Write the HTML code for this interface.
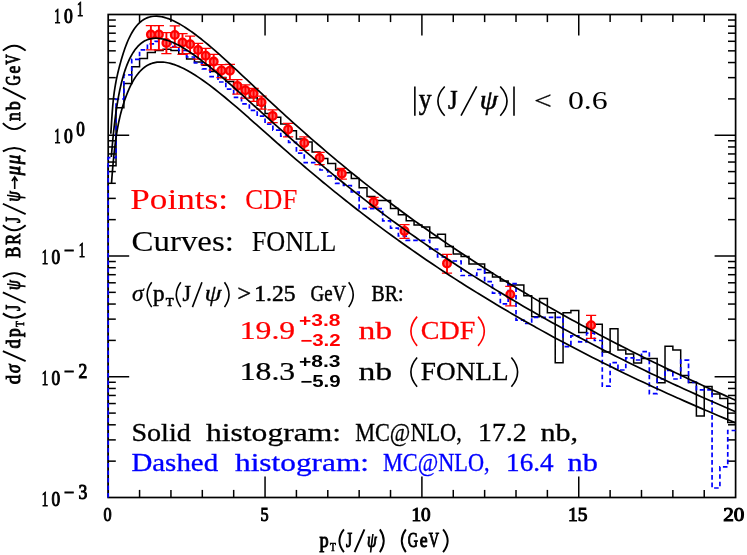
<!DOCTYPE html>
<html><head><meta charset="utf-8"><title>J/psi FONLL vs CDF</title>
<style>
html,body{margin:0;padding:0;background:#fff;}
svg{display:block;will-change:transform;}
</style></head><body>
<svg width="747" height="555" viewBox="0 0 747 555">
<rect x="0" y="0" width="747" height="555" fill="#fff"/>
<rect x="108.2" y="14.5" width="627.40" height="483.00" fill="none" stroke="#000" stroke-width="1.7"/>
<line x1="139.57" y1="497.50" x2="139.57" y2="489.90" stroke="#000" stroke-width="1.5" />
<line x1="139.57" y1="14.50" x2="139.57" y2="22.10" stroke="#000" stroke-width="1.5" />
<line x1="170.94" y1="497.50" x2="170.94" y2="489.90" stroke="#000" stroke-width="1.5" />
<line x1="170.94" y1="14.50" x2="170.94" y2="22.10" stroke="#000" stroke-width="1.5" />
<line x1="202.31" y1="497.50" x2="202.31" y2="489.90" stroke="#000" stroke-width="1.5" />
<line x1="202.31" y1="14.50" x2="202.31" y2="22.10" stroke="#000" stroke-width="1.5" />
<line x1="233.68" y1="497.50" x2="233.68" y2="489.90" stroke="#000" stroke-width="1.5" />
<line x1="233.68" y1="14.50" x2="233.68" y2="22.10" stroke="#000" stroke-width="1.5" />
<line x1="265.05" y1="497.50" x2="265.05" y2="476.50" stroke="#000" stroke-width="1.5" />
<line x1="265.05" y1="14.50" x2="265.05" y2="35.50" stroke="#000" stroke-width="1.5" />
<line x1="296.42" y1="497.50" x2="296.42" y2="489.90" stroke="#000" stroke-width="1.5" />
<line x1="296.42" y1="14.50" x2="296.42" y2="22.10" stroke="#000" stroke-width="1.5" />
<line x1="327.79" y1="497.50" x2="327.79" y2="489.90" stroke="#000" stroke-width="1.5" />
<line x1="327.79" y1="14.50" x2="327.79" y2="22.10" stroke="#000" stroke-width="1.5" />
<line x1="359.16" y1="497.50" x2="359.16" y2="489.90" stroke="#000" stroke-width="1.5" />
<line x1="359.16" y1="14.50" x2="359.16" y2="22.10" stroke="#000" stroke-width="1.5" />
<line x1="390.53" y1="497.50" x2="390.53" y2="489.90" stroke="#000" stroke-width="1.5" />
<line x1="390.53" y1="14.50" x2="390.53" y2="22.10" stroke="#000" stroke-width="1.5" />
<line x1="421.90" y1="497.50" x2="421.90" y2="476.50" stroke="#000" stroke-width="1.5" />
<line x1="421.90" y1="14.50" x2="421.90" y2="35.50" stroke="#000" stroke-width="1.5" />
<line x1="453.27" y1="497.50" x2="453.27" y2="489.90" stroke="#000" stroke-width="1.5" />
<line x1="453.27" y1="14.50" x2="453.27" y2="22.10" stroke="#000" stroke-width="1.5" />
<line x1="484.64" y1="497.50" x2="484.64" y2="489.90" stroke="#000" stroke-width="1.5" />
<line x1="484.64" y1="14.50" x2="484.64" y2="22.10" stroke="#000" stroke-width="1.5" />
<line x1="516.01" y1="497.50" x2="516.01" y2="489.90" stroke="#000" stroke-width="1.5" />
<line x1="516.01" y1="14.50" x2="516.01" y2="22.10" stroke="#000" stroke-width="1.5" />
<line x1="547.38" y1="497.50" x2="547.38" y2="489.90" stroke="#000" stroke-width="1.5" />
<line x1="547.38" y1="14.50" x2="547.38" y2="22.10" stroke="#000" stroke-width="1.5" />
<line x1="578.75" y1="497.50" x2="578.75" y2="476.50" stroke="#000" stroke-width="1.5" />
<line x1="578.75" y1="14.50" x2="578.75" y2="35.50" stroke="#000" stroke-width="1.5" />
<line x1="610.12" y1="497.50" x2="610.12" y2="489.90" stroke="#000" stroke-width="1.5" />
<line x1="610.12" y1="14.50" x2="610.12" y2="22.10" stroke="#000" stroke-width="1.5" />
<line x1="641.49" y1="497.50" x2="641.49" y2="489.90" stroke="#000" stroke-width="1.5" />
<line x1="641.49" y1="14.50" x2="641.49" y2="22.10" stroke="#000" stroke-width="1.5" />
<line x1="672.86" y1="497.50" x2="672.86" y2="489.90" stroke="#000" stroke-width="1.5" />
<line x1="672.86" y1="14.50" x2="672.86" y2="22.10" stroke="#000" stroke-width="1.5" />
<line x1="704.23" y1="497.50" x2="704.23" y2="489.90" stroke="#000" stroke-width="1.5" />
<line x1="704.23" y1="14.50" x2="704.23" y2="22.10" stroke="#000" stroke-width="1.5" />
<line x1="108.20" y1="461.15" x2="115.80" y2="461.15" stroke="#000" stroke-width="1.5" />
<line x1="735.60" y1="461.15" x2="728.00" y2="461.15" stroke="#000" stroke-width="1.5" />
<line x1="108.20" y1="439.89" x2="115.80" y2="439.89" stroke="#000" stroke-width="1.5" />
<line x1="735.60" y1="439.89" x2="728.00" y2="439.89" stroke="#000" stroke-width="1.5" />
<line x1="108.20" y1="424.80" x2="115.80" y2="424.80" stroke="#000" stroke-width="1.5" />
<line x1="735.60" y1="424.80" x2="728.00" y2="424.80" stroke="#000" stroke-width="1.5" />
<line x1="108.20" y1="413.10" x2="115.80" y2="413.10" stroke="#000" stroke-width="1.5" />
<line x1="735.60" y1="413.10" x2="728.00" y2="413.10" stroke="#000" stroke-width="1.5" />
<line x1="108.20" y1="403.54" x2="115.80" y2="403.54" stroke="#000" stroke-width="1.5" />
<line x1="735.60" y1="403.54" x2="728.00" y2="403.54" stroke="#000" stroke-width="1.5" />
<line x1="108.20" y1="395.45" x2="115.80" y2="395.45" stroke="#000" stroke-width="1.5" />
<line x1="735.60" y1="395.45" x2="728.00" y2="395.45" stroke="#000" stroke-width="1.5" />
<line x1="108.20" y1="388.45" x2="115.80" y2="388.45" stroke="#000" stroke-width="1.5" />
<line x1="735.60" y1="388.45" x2="728.00" y2="388.45" stroke="#000" stroke-width="1.5" />
<line x1="108.20" y1="382.28" x2="115.80" y2="382.28" stroke="#000" stroke-width="1.5" />
<line x1="735.60" y1="382.28" x2="728.00" y2="382.28" stroke="#000" stroke-width="1.5" />
<line x1="108.20" y1="376.75" x2="129.20" y2="376.75" stroke="#000" stroke-width="1.5" />
<line x1="735.60" y1="376.75" x2="714.60" y2="376.75" stroke="#000" stroke-width="1.5" />
<line x1="108.20" y1="340.40" x2="115.80" y2="340.40" stroke="#000" stroke-width="1.5" />
<line x1="735.60" y1="340.40" x2="728.00" y2="340.40" stroke="#000" stroke-width="1.5" />
<line x1="108.20" y1="319.14" x2="115.80" y2="319.14" stroke="#000" stroke-width="1.5" />
<line x1="735.60" y1="319.14" x2="728.00" y2="319.14" stroke="#000" stroke-width="1.5" />
<line x1="108.20" y1="304.05" x2="115.80" y2="304.05" stroke="#000" stroke-width="1.5" />
<line x1="735.60" y1="304.05" x2="728.00" y2="304.05" stroke="#000" stroke-width="1.5" />
<line x1="108.20" y1="292.35" x2="115.80" y2="292.35" stroke="#000" stroke-width="1.5" />
<line x1="735.60" y1="292.35" x2="728.00" y2="292.35" stroke="#000" stroke-width="1.5" />
<line x1="108.20" y1="282.79" x2="115.80" y2="282.79" stroke="#000" stroke-width="1.5" />
<line x1="735.60" y1="282.79" x2="728.00" y2="282.79" stroke="#000" stroke-width="1.5" />
<line x1="108.20" y1="274.70" x2="115.80" y2="274.70" stroke="#000" stroke-width="1.5" />
<line x1="735.60" y1="274.70" x2="728.00" y2="274.70" stroke="#000" stroke-width="1.5" />
<line x1="108.20" y1="267.70" x2="115.80" y2="267.70" stroke="#000" stroke-width="1.5" />
<line x1="735.60" y1="267.70" x2="728.00" y2="267.70" stroke="#000" stroke-width="1.5" />
<line x1="108.20" y1="261.53" x2="115.80" y2="261.53" stroke="#000" stroke-width="1.5" />
<line x1="735.60" y1="261.53" x2="728.00" y2="261.53" stroke="#000" stroke-width="1.5" />
<line x1="108.20" y1="256.00" x2="129.20" y2="256.00" stroke="#000" stroke-width="1.5" />
<line x1="735.60" y1="256.00" x2="714.60" y2="256.00" stroke="#000" stroke-width="1.5" />
<line x1="108.20" y1="219.65" x2="115.80" y2="219.65" stroke="#000" stroke-width="1.5" />
<line x1="735.60" y1="219.65" x2="728.00" y2="219.65" stroke="#000" stroke-width="1.5" />
<line x1="108.20" y1="198.39" x2="115.80" y2="198.39" stroke="#000" stroke-width="1.5" />
<line x1="735.60" y1="198.39" x2="728.00" y2="198.39" stroke="#000" stroke-width="1.5" />
<line x1="108.20" y1="183.30" x2="115.80" y2="183.30" stroke="#000" stroke-width="1.5" />
<line x1="735.60" y1="183.30" x2="728.00" y2="183.30" stroke="#000" stroke-width="1.5" />
<line x1="108.20" y1="171.60" x2="115.80" y2="171.60" stroke="#000" stroke-width="1.5" />
<line x1="735.60" y1="171.60" x2="728.00" y2="171.60" stroke="#000" stroke-width="1.5" />
<line x1="108.20" y1="162.04" x2="115.80" y2="162.04" stroke="#000" stroke-width="1.5" />
<line x1="735.60" y1="162.04" x2="728.00" y2="162.04" stroke="#000" stroke-width="1.5" />
<line x1="108.20" y1="153.95" x2="115.80" y2="153.95" stroke="#000" stroke-width="1.5" />
<line x1="735.60" y1="153.95" x2="728.00" y2="153.95" stroke="#000" stroke-width="1.5" />
<line x1="108.20" y1="146.95" x2="115.80" y2="146.95" stroke="#000" stroke-width="1.5" />
<line x1="735.60" y1="146.95" x2="728.00" y2="146.95" stroke="#000" stroke-width="1.5" />
<line x1="108.20" y1="140.78" x2="115.80" y2="140.78" stroke="#000" stroke-width="1.5" />
<line x1="735.60" y1="140.78" x2="728.00" y2="140.78" stroke="#000" stroke-width="1.5" />
<line x1="108.20" y1="135.25" x2="129.20" y2="135.25" stroke="#000" stroke-width="1.5" />
<line x1="735.60" y1="135.25" x2="714.60" y2="135.25" stroke="#000" stroke-width="1.5" />
<line x1="108.20" y1="98.90" x2="115.80" y2="98.90" stroke="#000" stroke-width="1.5" />
<line x1="735.60" y1="98.90" x2="728.00" y2="98.90" stroke="#000" stroke-width="1.5" />
<line x1="108.20" y1="77.64" x2="115.80" y2="77.64" stroke="#000" stroke-width="1.5" />
<line x1="735.60" y1="77.64" x2="728.00" y2="77.64" stroke="#000" stroke-width="1.5" />
<line x1="108.20" y1="62.55" x2="115.80" y2="62.55" stroke="#000" stroke-width="1.5" />
<line x1="735.60" y1="62.55" x2="728.00" y2="62.55" stroke="#000" stroke-width="1.5" />
<line x1="108.20" y1="50.85" x2="115.80" y2="50.85" stroke="#000" stroke-width="1.5" />
<line x1="735.60" y1="50.85" x2="728.00" y2="50.85" stroke="#000" stroke-width="1.5" />
<line x1="108.20" y1="41.29" x2="115.80" y2="41.29" stroke="#000" stroke-width="1.5" />
<line x1="735.60" y1="41.29" x2="728.00" y2="41.29" stroke="#000" stroke-width="1.5" />
<line x1="108.20" y1="33.20" x2="115.80" y2="33.20" stroke="#000" stroke-width="1.5" />
<line x1="735.60" y1="33.20" x2="728.00" y2="33.20" stroke="#000" stroke-width="1.5" />
<line x1="108.20" y1="26.20" x2="115.80" y2="26.20" stroke="#000" stroke-width="1.5" />
<line x1="735.60" y1="26.20" x2="728.00" y2="26.20" stroke="#000" stroke-width="1.5" />
<line x1="108.20" y1="20.03" x2="115.80" y2="20.03" stroke="#000" stroke-width="1.5" />
<line x1="735.60" y1="20.03" x2="728.00" y2="20.03" stroke="#000" stroke-width="1.5" />
<path d="M108.20,497.50 L108.20,165.80 L116.04,165.80 L116.04,107.70 L123.89,107.70 L123.89,83.50 L131.73,83.50 L131.73,66.80 L139.57,66.80 L139.57,58.60 L147.41,58.60 L147.41,52.60 L155.25,52.60 L155.25,50.50 L163.10,50.50 L163.10,49.20 L170.94,49.20 L170.94,50.50 L178.78,50.50 L178.78,53.90 L186.62,53.90 L186.62,58.90 L194.47,58.90 L194.47,62.00 L202.31,62.00 L202.31,65.30 L210.15,65.30 L210.15,71.40 L218.00,71.40 L218.00,77.40 L225.84,77.40 L225.84,81.50 L233.68,81.50 L233.68,87.00 L241.52,87.00 L241.52,92.50 L249.37,92.50 L249.37,97.80 L257.21,97.80 L257.21,105.30 L265.05,105.30 L265.05,113.50 L272.89,113.50 L272.89,117.30 L280.74,117.30 L280.74,124.10 L288.58,124.10 L288.58,130.80 L296.42,130.80 L296.42,138.90 L304.26,138.90 L304.26,141.90 L312.10,141.90 L312.10,152.00 L319.95,152.00 L319.95,158.50 L327.79,158.50 L327.79,163.40 L335.63,163.40 L335.63,169.90 L343.47,169.90 L343.47,172.70 L351.32,172.70 L351.32,178.50 L359.16,178.50 L359.16,187.70 L367.00,187.70 L367.00,196.50 L374.84,196.50 L374.84,200.50 L382.69,200.50 L382.69,200.50 L390.53,200.50 L390.53,208.60 L398.37,208.60 L398.37,214.70 L406.21,214.70 L406.21,220.80 L414.06,220.80 L414.06,224.90 L421.90,224.90 L421.90,226.90 L429.74,226.90 L429.74,237.70 L437.58,237.70 L437.58,234.30 L445.43,234.30 L445.43,246.50 L453.27,246.50 L453.27,253.90 L461.11,253.90 L461.11,256.60 L468.95,256.60 L468.95,264.00 L476.80,264.00 L476.80,264.00 L484.64,264.00 L484.64,272.80 L492.48,272.80 L492.48,277.00 L500.32,277.00 L500.32,281.00 L508.17,281.00 L508.17,285.00 L516.01,285.00 L516.01,285.00 L523.85,285.00 L523.85,295.80 L531.69,295.80 L531.69,316.80 L539.54,316.80 L539.54,298.50 L547.38,298.50 L547.38,312.80 L555.22,312.80 L555.22,362.80 L563.06,362.80 L563.06,312.80 L570.91,312.80 L570.91,310.50 L578.75,310.50 L578.75,332.40 L586.59,332.40 L586.59,324.30 L594.43,324.30 L594.43,324.30 L602.28,324.30 L602.28,352.00 L610.12,352.00 L610.12,328.80 L617.96,328.80 L617.96,350.00 L625.80,350.00 L625.80,354.00 L633.65,354.00 L633.65,363.00 L641.49,363.00 L641.49,358.40 L649.33,358.40 L649.33,358.40 L657.17,358.40 L657.17,382.80 L665.02,382.80 L665.02,346.20 L672.86,346.20 L672.86,350.00 L680.70,350.00 L680.70,375.50 L688.54,375.50 L688.54,382.40 L696.39,382.40 L696.39,416.00 L704.23,416.00 L704.23,386.50 L712.07,386.50 L712.07,393.90 L719.91,393.90 L719.91,398.60 L727.76,398.60 L727.76,422.50 L735.60,422.50" fill="none" stroke="#000" stroke-width="1.5" stroke-linejoin="miter"/>
<path d="M108.20,497.50 L108.20,157.70 L116.04,157.70 L116.04,99.00 L123.89,99.00 L123.89,74.90 L131.73,74.90 L131.73,59.30 L139.57,59.30 L139.57,49.90 L147.41,49.90 L147.41,43.80 L155.25,43.80 L155.25,41.40 L163.10,41.40 L163.10,43.80 L170.94,43.80 L170.94,46.50 L178.78,46.50 L178.78,50.50 L186.62,50.50 L186.62,57.00 L194.47,57.00 L194.47,63.00 L202.31,63.00 L202.31,68.90 L210.15,68.90 L210.15,76.60 L218.00,76.60 L218.00,82.00 L225.84,82.00 L225.84,89.20 L233.68,89.20 L233.68,97.30 L241.52,97.30 L241.52,103.80 L249.37,103.80 L249.37,110.30 L257.21,110.30 L257.21,116.20 L265.05,116.20 L265.05,124.10 L272.89,124.10 L272.89,130.10 L280.74,130.10 L280.74,136.20 L288.58,136.20 L288.58,142.30 L296.42,142.30 L296.42,153.10 L304.26,153.10 L304.26,162.60 L312.10,162.60 L312.10,162.60 L319.95,162.60 L319.95,170.00 L327.79,170.00 L327.79,176.00 L335.63,176.00 L335.63,183.40 L343.47,183.40 L343.47,185.50 L351.32,185.50 L351.32,192.00 L359.16,192.00 L359.16,208.60 L367.00,208.60 L367.00,208.60 L374.84,208.60 L374.84,208.60 L382.69,208.60 L382.69,220.80 L390.53,220.80 L390.53,228.10 L398.37,228.10 L398.37,236.00 L406.21,236.00 L406.21,240.30 L414.06,240.30 L414.06,240.30 L421.90,240.30 L421.90,240.30 L429.74,240.30 L429.74,249.00 L437.58,249.00 L437.58,257.00 L445.43,257.00 L445.43,261.00 L453.27,261.00 L453.27,261.00 L461.11,261.00 L461.11,275.50 L468.95,275.50 L468.95,275.50 L476.80,275.50 L476.80,269.50 L484.64,269.50 L484.64,281.60 L492.48,281.60 L492.48,293.10 L500.32,293.10 L500.32,303.90 L508.17,303.90 L508.17,283.60 L516.01,283.60 L516.01,320.10 L523.85,320.10 L523.85,323.50 L531.69,323.50 L531.69,317.40 L539.54,317.40 L539.54,317.40 L547.38,317.40 L547.38,317.40 L555.22,317.40 L555.22,317.40 L563.06,317.40 L563.06,346.60 L570.91,346.60 L570.91,335.80 L578.75,335.80 L578.75,341.90 L586.59,341.90 L586.59,333.10 L594.43,333.10 L594.43,340.50 L602.28,340.50 L602.28,386.10 L610.12,386.10 L610.12,362.60 L617.96,362.60 L617.96,370.00 L625.80,370.00 L625.80,357.90 L633.65,357.90 L633.65,360.00 L641.49,360.00 L641.49,351.60 L649.33,351.60 L649.33,393.70 L657.17,393.70 L657.17,379.00 L665.02,379.00 L665.02,370.30 L672.86,370.30 L672.86,379.00 L680.70,379.00 L680.70,360.20 L688.54,360.20 L688.54,382.40 L696.39,382.40 L696.39,389.90 L704.23,389.90 L704.23,389.90 L712.07,389.90 L712.07,488.00 L719.91,488.00 L719.91,466.80 L727.76,466.80 L727.76,430.50 L735.60,430.50" fill="none" stroke="#0000ff" stroke-width="1.7" stroke-dasharray="4.6,2.9" stroke-linejoin="miter"/>
<circle cx="150.90" cy="34.60" r="3.85" fill="#ff6262" stroke="#ff0000" stroke-width="2.3"/>
<path d="M150.90,25.50 V49.90" stroke="#ff0000" stroke-width="1.9" fill="none"/>
<path d="M145.80,25.50 H156.00 M145.80,49.90 H156.00" stroke="#ff0000" stroke-width="1.25" fill="none"/>
<circle cx="158.90" cy="34.50" r="3.85" fill="#ff6262" stroke="#ff0000" stroke-width="2.3"/>
<path d="M158.90,25.50 V49.90" stroke="#ff0000" stroke-width="1.9" fill="none"/>
<path d="M153.80,25.50 H164.00 M153.80,49.90 H164.00" stroke="#ff0000" stroke-width="1.25" fill="none"/>
<circle cx="166.40" cy="43.00" r="3.85" fill="#ff6262" stroke="#ff0000" stroke-width="2.3"/>
<path d="M166.40,32.50 V53.50" stroke="#ff0000" stroke-width="1.9" fill="none"/>
<path d="M161.30,32.50 H171.50 M161.30,53.50 H171.50" stroke="#ff0000" stroke-width="1.25" fill="none"/>
<circle cx="174.80" cy="35.00" r="3.85" fill="#ff6262" stroke="#ff0000" stroke-width="2.3"/>
<path d="M174.80,25.90 V47.40" stroke="#ff0000" stroke-width="1.9" fill="none"/>
<path d="M169.70,25.90 H179.90 M169.70,47.40 H179.90" stroke="#ff0000" stroke-width="1.25" fill="none"/>
<circle cx="182.50" cy="42.50" r="3.85" fill="#ff6262" stroke="#ff0000" stroke-width="2.3"/>
<path d="M182.50,33.60 V54.30" stroke="#ff0000" stroke-width="1.9" fill="none"/>
<path d="M177.40,33.60 H187.60 M177.40,54.30 H187.60" stroke="#ff0000" stroke-width="1.25" fill="none"/>
<circle cx="190.10" cy="44.20" r="3.85" fill="#ff6262" stroke="#ff0000" stroke-width="2.3"/>
<path d="M190.10,36.00 V53.50" stroke="#ff0000" stroke-width="1.9" fill="none"/>
<path d="M185.00,36.00 H195.20 M185.00,53.50 H195.20" stroke="#ff0000" stroke-width="1.25" fill="none"/>
<circle cx="198.10" cy="50.00" r="3.85" fill="#ff6262" stroke="#ff0000" stroke-width="2.3"/>
<path d="M198.10,43.40 V59.00" stroke="#ff0000" stroke-width="1.9" fill="none"/>
<path d="M193.00,43.40 H203.20 M193.00,59.00 H203.20" stroke="#ff0000" stroke-width="1.25" fill="none"/>
<circle cx="205.70" cy="55.80" r="3.85" fill="#ff6262" stroke="#ff0000" stroke-width="2.3"/>
<path d="M205.70,48.30 V64.50" stroke="#ff0000" stroke-width="1.9" fill="none"/>
<path d="M200.60,48.30 H210.80 M200.60,64.50 H210.80" stroke="#ff0000" stroke-width="1.25" fill="none"/>
<circle cx="213.70" cy="61.60" r="3.85" fill="#ff6262" stroke="#ff0000" stroke-width="2.3"/>
<path d="M213.70,54.30 V70.10" stroke="#ff0000" stroke-width="1.9" fill="none"/>
<path d="M208.60,54.30 H218.80 M208.60,70.10 H218.80" stroke="#ff0000" stroke-width="1.25" fill="none"/>
<circle cx="221.50" cy="70.50" r="3.85" fill="#ff6262" stroke="#ff0000" stroke-width="2.3"/>
<path d="M221.50,64.50 V77.50" stroke="#ff0000" stroke-width="1.9" fill="none"/>
<path d="M216.40,64.50 H226.60 M216.40,77.50 H226.60" stroke="#ff0000" stroke-width="1.25" fill="none"/>
<circle cx="229.90" cy="70.70" r="3.85" fill="#ff6262" stroke="#ff0000" stroke-width="2.3"/>
<path d="M229.90,64.30 V79.50" stroke="#ff0000" stroke-width="1.9" fill="none"/>
<path d="M224.80,64.30 H235.00 M224.80,79.50 H235.00" stroke="#ff0000" stroke-width="1.25" fill="none"/>
<circle cx="237.40" cy="85.90" r="3.85" fill="#ff6262" stroke="#ff0000" stroke-width="2.3"/>
<path d="M237.40,79.70 V94.00" stroke="#ff0000" stroke-width="1.9" fill="none"/>
<path d="M232.30,79.70 H242.50 M232.30,94.00 H242.50" stroke="#ff0000" stroke-width="1.25" fill="none"/>
<circle cx="245.40" cy="90.20" r="3.85" fill="#ff6262" stroke="#ff0000" stroke-width="2.3"/>
<path d="M245.40,84.80 V98.00" stroke="#ff0000" stroke-width="1.9" fill="none"/>
<path d="M240.30,84.80 H250.50 M240.30,98.00 H250.50" stroke="#ff0000" stroke-width="1.25" fill="none"/>
<circle cx="253.60" cy="93.60" r="3.85" fill="#ff6262" stroke="#ff0000" stroke-width="2.3"/>
<path d="M253.60,88.40 V101.40" stroke="#ff0000" stroke-width="1.9" fill="none"/>
<path d="M248.50,88.40 H258.70 M248.50,101.40 H258.70" stroke="#ff0000" stroke-width="1.25" fill="none"/>
<circle cx="261.50" cy="102.30" r="3.85" fill="#ff6262" stroke="#ff0000" stroke-width="2.3"/>
<path d="M261.50,96.20 V109.20" stroke="#ff0000" stroke-width="1.9" fill="none"/>
<path d="M256.40,96.20 H266.60 M256.40,109.20 H266.60" stroke="#ff0000" stroke-width="1.25" fill="none"/>
<circle cx="272.60" cy="115.90" r="3.85" fill="#ff6262" stroke="#ff0000" stroke-width="2.3"/>
<path d="M272.60,109.90 V122.70" stroke="#ff0000" stroke-width="1.9" fill="none"/>
<path d="M267.50,109.90 H277.70 M267.50,122.70 H277.70" stroke="#ff0000" stroke-width="1.25" fill="none"/>
<circle cx="288.10" cy="129.50" r="3.85" fill="#ff6262" stroke="#ff0000" stroke-width="2.3"/>
<path d="M288.10,123.40 V136.90" stroke="#ff0000" stroke-width="1.9" fill="none"/>
<path d="M283.00,123.40 H293.20 M283.00,136.90 H293.20" stroke="#ff0000" stroke-width="1.25" fill="none"/>
<circle cx="304.30" cy="143.00" r="3.85" fill="#ff6262" stroke="#ff0000" stroke-width="2.3"/>
<path d="M304.30,136.90 V150.40" stroke="#ff0000" stroke-width="1.9" fill="none"/>
<path d="M299.20,136.90 H309.40 M299.20,150.40 H309.40" stroke="#ff0000" stroke-width="1.25" fill="none"/>
<circle cx="319.60" cy="158.00" r="3.85" fill="#ff6262" stroke="#ff0000" stroke-width="2.3"/>
<path d="M319.60,152.40 V164.60" stroke="#ff0000" stroke-width="1.9" fill="none"/>
<path d="M314.50,152.40 H324.70 M314.50,164.60 H324.70" stroke="#ff0000" stroke-width="1.25" fill="none"/>
<circle cx="341.80" cy="173.60" r="3.85" fill="#ff6262" stroke="#ff0000" stroke-width="2.3"/>
<path d="M341.80,168.40 V179.00" stroke="#ff0000" stroke-width="1.9" fill="none"/>
<path d="M336.70,168.40 H346.90 M336.70,179.00 H346.90" stroke="#ff0000" stroke-width="1.25" fill="none"/>
<circle cx="373.60" cy="202.20" r="3.85" fill="#ff6262" stroke="#ff0000" stroke-width="2.3"/>
<path d="M373.60,197.40 V207.20" stroke="#ff0000" stroke-width="1.9" fill="none"/>
<path d="M368.50,197.40 H378.70 M368.50,207.20 H378.70" stroke="#ff0000" stroke-width="1.25" fill="none"/>
<circle cx="404.50" cy="231.00" r="3.85" fill="#ff6262" stroke="#ff0000" stroke-width="2.3"/>
<path d="M404.50,224.50 V238.40" stroke="#ff0000" stroke-width="1.9" fill="none"/>
<path d="M399.40,224.50 H409.60 M399.40,238.40 H409.60" stroke="#ff0000" stroke-width="1.25" fill="none"/>
<circle cx="447.00" cy="263.40" r="3.85" fill="#ff6262" stroke="#ff0000" stroke-width="2.3"/>
<path d="M447.00,254.30 V273.20" stroke="#ff0000" stroke-width="1.9" fill="none"/>
<path d="M441.90,254.30 H452.10 M441.90,273.20 H452.10" stroke="#ff0000" stroke-width="1.25" fill="none"/>
<circle cx="510.30" cy="294.50" r="3.85" fill="#ff6262" stroke="#ff0000" stroke-width="2.3"/>
<path d="M510.30,286.40 V305.90" stroke="#ff0000" stroke-width="1.9" fill="none"/>
<path d="M505.20,286.40 H515.40 M505.20,305.90 H515.40" stroke="#ff0000" stroke-width="1.25" fill="none"/>
<circle cx="591.10" cy="325.20" r="3.85" fill="#ff6262" stroke="#ff0000" stroke-width="2.3"/>
<path d="M591.10,315.40 V338.40" stroke="#ff0000" stroke-width="1.9" fill="none"/>
<path d="M586.00,315.40 H596.20 M586.00,338.40 H596.20" stroke="#ff0000" stroke-width="1.25" fill="none"/>
<path d="M110.80,133.75 L110.80,133.75 L110.93,131.88 L111.08,129.79 L111.22,127.51 L111.38,125.08 L111.54,122.51 L111.72,119.85 L111.90,117.12 L112.09,114.35 L112.29,111.58 L112.50,108.83 L112.72,106.14 L112.96,103.53 L113.20,101.01 L113.46,98.58 L113.73,96.22 L114.02,93.94 L114.32,91.71 L114.63,89.53 L114.97,87.40 L115.31,85.30 L115.68,83.23 L116.07,81.18 L116.47,79.15 L116.53,78.87 L116.90,77.12 L117.35,75.08 L117.82,73.04 L118.32,70.97 L118.84,68.88 L119.39,66.75 L119.97,64.58 L120.58,62.35 L121.21,60.08 L121.89,57.77 L122.26,56.50 L122.59,55.42 L123.34,53.06 L124.12,50.68 L124.94,48.31 L125.80,45.94 L126.71,43.59 L127.67,41.28 L128.00,40.51 L128.67,39.00 L129.73,36.77 L130.84,34.61 L132.01,32.51 L133.24,30.49 L133.73,29.74 L134.53,28.57 L135.89,26.74 L137.32,25.03 L138.82,23.43 L139.46,22.82 L140.40,21.97 L142.07,20.65 L143.81,19.48 L145.19,18.70 L145.65,18.47 L147.58,17.63 L149.62,16.97 L150.92,16.66 L151.76,16.50 L154.00,16.24 L156.37,16.18 L156.66,16.19 L158.85,16.34 L161.47,16.73 L162.39,16.91 L164.22,17.36 L167.11,18.23 L168.12,18.58 L170.15,19.36 L173.35,20.76 L173.85,20.99 L176.71,22.43 L179.59,24.00 L180.25,24.38 L183.97,26.63 L185.32,27.49 L187.88,29.19 L191.05,31.38 L191.99,32.06 L196.32,35.24 L196.78,35.60 L200.87,38.77 L202.51,40.08 L205.65,42.63 L208.25,44.78 L210.68,46.84 L213.98,49.67 L215.97,51.41 L219.71,54.72 L221.53,56.35 L225.44,59.89 L227.38,61.66 L231.17,65.14 L233.54,67.32 L236.91,70.46 L240.01,73.34 L242.64,75.80 L246.81,79.71 L248.37,81.17 L253.96,86.42 L254.10,86.55 L259.83,91.91 L261.49,93.46 L265.57,97.26 L269.40,100.82 L271.30,102.58 L277.03,107.88 L277.72,108.51 L282.76,113.14 L286.47,116.52 L288.50,118.35 L294.23,123.53 L295.67,124.83 L299.96,128.66 L305.35,133.44 L305.69,133.74 L311.42,138.78 L315.53,142.35 L317.16,143.76 L322.89,148.70 L326.23,151.55 L328.62,153.58 L334.35,158.41 L337.48,161.03 L340.08,163.20 L345.82,167.93 L349.32,170.79 L351.55,172.61 L357.28,177.23 L361.77,180.82 L363.01,181.81 L368.74,186.34 L374.48,190.82 L374.86,191.11 L380.21,195.25 L385.94,199.63 L388.62,201.66 L391.67,203.96 L397.41,208.25 L403.10,212.46 L403.14,212.49 L408.87,216.69 L414.60,220.84 L418.32,223.51 L420.33,224.95 L426.07,229.01 L431.80,233.03 L434.33,234.79 L437.53,237.01 L443.26,240.95 L448.99,244.84 L451.16,246.30 L454.73,248.70 L460.46,252.52 L466.19,256.29 L468.86,258.04 L471.92,260.04 L477.66,263.74 L483.39,267.41 L487.48,270.00 L489.12,271.04 L494.85,274.63 L500.58,278.19 L506.32,281.72 L507.06,282.17 L512.05,285.21 L517.78,288.67 L523.51,292.10 L527.65,294.55 L529.24,295.49 L534.98,298.86 L540.71,302.19 L546.44,305.49 L549.30,307.13 L552.17,308.76 L557.90,312.01 L563.64,315.22 L569.37,318.41 L572.07,319.90 L575.10,321.56 L580.83,324.69 L586.57,327.80 L592.30,330.87 L596.01,332.85 L598.03,333.92 L603.76,336.95 L609.49,339.95 L615.23,342.92 L620.96,345.87 L621.19,345.99 L626.69,348.80 L632.42,351.70 L638.15,354.58 L643.89,357.43 L647.67,359.30 L649.62,360.26 L655.35,363.07 L661.08,365.86 L666.81,368.62 L672.55,371.37 L675.52,372.78 L678.28,374.09 L684.01,376.79 L689.74,379.47 L695.48,382.14 L701.21,384.78 L704.80,386.42 L706.94,387.40 L712.67,390.00 L718.40,392.58 L724.14,395.15 L729.87,397.69 L735.60,400.22 L735.60,400.22" fill="none" stroke="#000" stroke-width="1.7" stroke-linejoin="round" stroke-linecap="butt"/>
<path d="M111.30,157.04 L111.45,155.16 L111.62,153.21 L111.79,151.19 L111.97,149.10 L112.16,146.95 L112.35,144.73 L112.56,142.46 L112.78,140.14 L113.01,137.76 L113.25,135.34 L113.50,132.87 L113.76,130.36 L114.04,127.82 L114.33,125.24 L114.64,122.64 L114.96,120.00 L115.30,117.35 L115.65,114.67 L116.02,111.98 L116.41,109.28 L116.82,106.56 L117.03,105.26 L117.25,103.85 L117.71,101.13 L118.18,98.41 L118.68,95.69 L119.20,92.99 L119.75,90.29 L120.33,87.61 L120.93,84.95 L121.57,82.31 L122.24,79.70 L122.76,77.78 L122.94,77.12 L123.67,74.58 L124.45,72.08 L125.26,69.63 L126.11,67.22 L127.00,64.87 L127.94,62.58 L128.48,61.33 L128.93,60.35 L129.96,58.19 L131.05,56.11 L132.19,54.10 L133.38,52.17 L134.21,50.94 L134.64,50.33 L135.96,48.58 L137.35,46.93 L138.80,45.40 L139.94,44.33 L140.33,43.98 L141.94,42.70 L143.62,41.57 L145.39,40.58 L145.67,40.44 L147.24,39.75 L149.19,39.09 L151.24,38.60 L151.39,38.58 L153.39,38.30 L155.64,38.20 L157.12,38.23 L158.01,38.29 L160.50,38.58 L162.85,39.03 L163.11,39.09 L165.85,39.82 L168.58,40.72 L168.73,40.78 L171.75,41.97 L174.30,43.11 L174.93,43.41 L178.26,45.09 L180.03,46.06 L181.75,47.04 L185.43,49.25 L185.76,49.45 L189.28,51.73 L191.49,53.21 L193.33,54.48 L197.21,57.26 L197.58,57.53 L202.04,60.87 L202.94,61.56 L206.73,64.51 L208.67,66.06 L211.65,68.46 L214.40,70.72 L216.81,72.73 L220.12,75.52 L222.23,77.32 L225.85,80.43 L227.92,82.24 L231.58,85.44 L233.90,87.50 L237.31,90.52 L240.18,93.09 L243.03,95.65 L246.77,99.02 L248.76,100.82 L253.68,105.27 L254.49,106.00 L260.22,111.18 L260.95,111.84 L265.94,116.35 L268.57,118.72 L271.67,121.51 L276.58,125.91 L277.40,126.64 L283.13,131.74 L284.99,133.39 L288.85,136.81 L293.81,141.17 L294.58,141.84 L300.31,146.83 L303.08,149.23 L306.04,151.78 L311.76,156.69 L312.81,157.58 L317.49,161.55 L323.02,166.19 L323.22,166.36 L328.95,171.12 L333.75,175.07 L334.67,175.83 L340.40,180.50 L345.01,184.22 L346.13,185.12 L351.86,189.69 L356.83,193.61 L357.58,194.21 L363.31,198.68 L369.04,203.10 L369.24,203.26 L374.77,207.48 L380.49,211.80 L382.27,213.14 L386.22,216.09 L391.95,220.32 L395.95,223.26 L397.68,224.51 L403.40,228.66 L409.13,232.76 L410.32,233.60 L414.86,236.81 L420.59,240.83 L425.40,244.17 L426.31,244.80 L432.04,248.73 L437.77,252.61 L441.24,254.95 L443.50,256.46 L449.22,260.27 L454.95,264.04 L457.87,265.94 L460.68,267.77 L466.41,271.46 L472.13,275.11 L475.32,277.13 L477.86,278.73 L483.59,282.31 L489.32,285.86 L493.65,288.52 L495.04,289.37 L500.77,292.85 L506.50,296.29 L512.23,299.70 L512.89,300.09 L517.95,303.08 L523.68,306.42 L529.41,309.73 L533.10,311.85 L535.14,313.02 L540.86,316.27 L546.59,319.49 L552.32,322.68 L554.31,323.79 L558.05,325.85 L563.77,328.98 L569.50,332.09 L575.23,335.17 L576.58,335.89 L580.96,338.22 L586.68,341.24 L592.41,344.24 L598.14,347.21 L599.96,348.16 L603.87,350.16 L609.59,353.08 L615.32,355.98 L621.05,358.85 L624.51,360.58 L626.78,361.70 L632.50,364.53 L638.23,367.33 L643.96,370.11 L649.69,372.86 L650.29,373.15 L655.41,375.60 L661.14,378.31 L666.87,381.00 L672.60,383.67 L677.35,385.87 L678.32,386.32 L684.05,388.94 L689.78,391.55 L695.51,394.14 L701.23,396.70 L705.77,398.72 L706.96,399.25 L712.69,401.78 L718.42,404.29 L724.14,406.78 L729.87,409.25 L735.60,411.71 L735.60,411.71" fill="none" stroke="#000" stroke-width="1.7" stroke-linejoin="round" stroke-linecap="butt"/>
<path d="M111.50,183.36 L111.66,181.15 L111.83,178.87 L112.01,176.52 L112.20,174.12 L112.40,171.66 L112.61,169.16 L112.82,166.62 L113.05,164.04 L113.29,161.43 L113.54,158.80 L113.80,156.15 L114.08,153.49 L114.37,150.82 L114.67,148.15 L114.99,145.49 L115.33,142.83 L115.68,140.19 L116.05,137.58 L116.44,134.98 L116.84,132.42 L117.23,130.14 L117.27,129.89 L117.72,127.38 L118.19,124.89 L118.68,122.43 L119.20,119.99 L119.74,117.57 L120.31,115.17 L120.90,112.79 L121.53,110.42 L122.19,108.07 L122.88,105.73 L122.95,105.49 L123.60,103.41 L124.36,101.09 L125.16,98.79 L126.00,96.49 L126.87,94.21 L127.79,91.92 L128.68,89.85 L128.76,89.66 L129.77,87.41 L130.84,85.20 L131.96,83.03 L133.13,80.91 L134.36,78.86 L134.40,78.79 L135.65,76.88 L137.00,74.98 L138.42,73.17 L139.91,71.46 L140.13,71.23 L141.48,69.86 L143.12,68.38 L144.84,67.03 L145.85,66.33 L146.65,65.83 L148.54,64.77 L150.53,63.86 L151.58,63.47 L152.62,63.13 L154.81,62.57 L157.11,62.20 L157.31,62.17 L159.52,62.02 L162.05,62.04 L163.03,62.10 L164.71,62.27 L167.50,62.72 L168.76,62.99 L170.42,63.40 L173.49,64.32 L174.48,64.66 L176.71,65.48 L180.09,66.90 L180.21,66.95 L183.63,68.58 L185.93,69.77 L187.35,70.53 L191.26,72.77 L191.66,73.01 L195.36,75.29 L197.39,76.61 L199.65,78.12 L203.11,80.50 L204.16,81.25 L208.84,84.65 L208.90,84.69 L213.86,88.46 L214.56,89.01 L219.08,92.57 L220.29,93.54 L224.54,97.02 L226.01,98.23 L230.28,101.82 L231.74,103.05 L236.30,106.96 L237.47,107.97 L242.62,112.45 L243.19,112.95 L248.92,117.98 L249.25,118.27 L254.64,123.04 L256.21,124.42 L260.37,128.11 L263.51,130.89 L266.09,133.18 L271.17,137.67 L271.82,138.24 L277.54,143.29 L279.21,144.75 L283.27,148.32 L287.64,152.13 L289.00,153.31 L294.72,158.27 L296.49,159.80 L300.45,163.20 L305.78,167.75 L306.17,168.08 L311.90,172.92 L315.52,175.97 L317.62,177.72 L323.35,182.48 L325.75,184.45 L329.08,187.18 L334.80,191.84 L336.48,193.20 L340.53,196.45 L346.25,201.01 L347.74,202.19 L351.98,205.53 L357.70,210.00 L359.55,211.43 L363.43,214.41 L369.16,218.78 L371.95,220.90 L374.88,223.11 L380.61,227.38 L384.96,230.60 L386.33,231.61 L392.06,235.79 L397.78,239.92 L398.61,240.51 L403.51,244.01 L409.24,248.06 L412.93,250.65 L414.96,252.06 L420.69,256.02 L426.41,259.93 L427.96,260.98 L432.14,263.80 L437.86,267.63 L443.59,271.42 L443.73,271.51 L449.32,275.17 L455.04,278.87 L460.28,282.23 L460.77,282.54 L466.49,286.17 L472.22,289.76 L477.65,293.14 L477.94,293.32 L483.67,296.84 L489.40,300.32 L495.12,303.77 L495.87,304.21 L500.85,307.18 L506.57,310.55 L512.30,313.90 L514.99,315.45 L518.02,317.21 L523.75,320.48 L529.48,323.73 L535.05,326.86 L535.20,326.94 L540.93,330.12 L546.65,333.27 L552.38,336.39 L556.10,338.41 L558.10,339.48 L563.83,342.55 L569.56,345.58 L575.28,348.59 L578.20,350.10 L581.01,351.56 L586.73,354.51 L592.46,357.44 L598.18,360.33 L601.38,361.94 L603.91,363.20 L609.63,366.05 L615.36,368.87 L621.09,371.66 L625.70,373.90 L626.81,374.43 L632.54,377.18 L638.26,379.90 L643.99,382.60 L649.71,385.28 L651.22,385.98 L655.44,387.93 L661.17,390.56 L666.89,393.17 L672.62,395.76 L678.01,398.17 L678.34,398.32 L684.07,400.87 L689.79,403.39 L695.52,405.89 L701.25,408.38 L706.11,410.47 L706.97,410.84 L712.70,413.28 L718.42,415.71 L724.15,418.11 L729.87,420.50 L735.60,422.87 L735.60,422.87" fill="none" stroke="#000" stroke-width="1.7" stroke-linejoin="round" stroke-linecap="butt"/>
<text stroke="#ff0000" stroke-width="0.1" transform="translate(130.30,209.00) scale(1.2130,1)" font-size="29" fill="#ff0000" font-weight="normal" font-style="normal" font-family="Liberation Serif">Points:</text>
<text stroke="#ff0000" stroke-width="0.1" transform="translate(245.20,209.00) scale(0.9242,1)" font-size="29" fill="#ff0000" font-weight="normal" font-style="normal" font-family="Liberation Serif">CDF</text>
<text stroke="#000" stroke-width="0.1" transform="translate(131.50,250.90) scale(1.1357,1)" font-size="29" fill="#000" font-weight="normal" font-style="normal" font-family="Liberation Serif">Curves:</text>
<text stroke="#000" stroke-width="0.1" transform="translate(251.70,250.90) scale(0.9070,1)" font-size="29" fill="#000" font-weight="normal" font-style="normal" font-family="Liberation Serif">FONLL</text>
<path d="M414.85,86.44 V115.68" stroke="#000" stroke-width="1.6" fill="none"/>
<text stroke="#000" stroke-width="0.55" transform="translate(418.70,108.80) scale(0.8982,1)" font-size="28.5" fill="#000" font-weight="normal" font-style="normal" font-family="Liberation Serif">y</text>
<path d="M444.72,86.44 Q431.08,101.06 444.72,115.68" stroke="#000" stroke-width="1.6" fill="none"/>
<text stroke="#000" stroke-width="0.55" transform="translate(448.10,108.80) scale(0.9143,1)" font-size="27" fill="#000" font-weight="normal" font-style="normal" font-family="Liberation Serif">J</text>
<path d="M461.04,115.68 L476.66,86.44" stroke="#000" stroke-width="1.6" fill="none" stroke-linecap="butt"/>
<text stroke="#000" stroke-width="0.55" transform="translate(479.70,108.80) scale(1.0350,1)" font-size="28" fill="#000" font-weight="normal" font-style="italic" font-family="Liberation Serif">ψ</text>
<path d="M500.28,86.44 Q513.72,101.06 500.28,115.68" stroke="#000" stroke-width="1.6" fill="none"/>
<path d="M514.00,86.44 V115.68" stroke="#000" stroke-width="1.6" fill="none"/>
<text stroke="#000" stroke-width="0.25" transform="translate(534.00,108.80) scale(1.2103,1)" font-size="26" fill="#000" font-weight="normal" font-style="normal" font-family="Liberation Serif">&lt;</text>
<text transform="translate(567.90,108.80) scale(1.2996,1)" font-size="24.5" fill="#000" font-weight="normal" font-style="normal" font-family="Liberation Serif">0.6</text>
<text stroke="#000" stroke-width="0.3" transform="translate(132.00,301.30) scale(0.9822,1)" font-size="24" fill="#000" font-weight="normal" font-style="italic" font-family="Liberation Serif">σ</text>
<path d="M151.72,282.32 Q142.68,294.73 151.72,307.14" stroke="#000" stroke-width="1.6" fill="none"/>
<text stroke="#000" stroke-width="0.5" transform="translate(153.00,301.30) scale(0.9978,1)" font-size="23.2" fill="#000" font-weight="normal" font-style="normal" font-family="Liberation Serif">p</text>
<text stroke="#000" stroke-width="0.7" transform="translate(165.73,305.60) scale(0.9497,1)" font-size="13.5" fill="#000" font-weight="normal" font-style="normal" font-family="Liberation Serif">T</text>
<path d="M180.82,282.32 Q171.78,294.73 180.82,307.14" stroke="#000" stroke-width="1.6" fill="none"/>
<text stroke="#000" stroke-width="0.5" transform="translate(182.50,301.30) scale(0.9444,1)" font-size="23.2" fill="#000" font-weight="normal" font-style="normal" font-family="Liberation Serif">J</text>
<path d="M192.44,307.14 L201.96,282.32" stroke="#000" stroke-width="1.6" fill="none" stroke-linecap="butt"/>
<text stroke="#000" stroke-width="0.3" transform="translate(204.60,301.30) scale(1.1410,1)" font-size="24" fill="#000" font-weight="normal" font-style="italic" font-family="Liberation Serif">ψ</text>
<path d="M224.48,282.32 Q233.52,294.73 224.48,307.14" stroke="#000" stroke-width="1.6" fill="none"/>
<text stroke="#000" stroke-width="0.5" transform="translate(237.60,301.30) scale(1.0362,1)" font-size="23.2" fill="#000" font-weight="normal" font-style="normal" font-family="Liberation Serif">&gt;</text>
<text stroke="#000" stroke-width="0.5" transform="translate(254.30,301.30) scale(1.0184,1)" font-size="23.2" fill="#000" font-weight="normal" font-style="normal" font-family="Liberation Serif">1.25</text>
<text stroke="#000" stroke-width="0.5" transform="translate(310.60,301.30) scale(0.8137,1)" font-size="23.2" fill="#000" font-weight="normal" font-style="normal" font-family="Liberation Serif">GeV</text>
<path d="M348.68,282.32 Q357.72,294.73 348.68,307.14" stroke="#000" stroke-width="1.6" fill="none"/>
<text stroke="#000" stroke-width="0.5" transform="translate(371.50,301.30) scale(0.8587,1)" font-size="23.2" fill="#000" font-weight="normal" font-style="normal" font-family="Liberation Serif">BR:</text>
<text stroke="#ff0000" stroke-width="0.25" transform="translate(239.70,339.00) scale(1.2198,1)" font-size="26" fill="#ff0000" font-weight="normal" font-style="normal" font-family="Liberation Serif">19.9</text>
<text transform="translate(299.00,326.30) scale(1.3154,1)" font-size="16" fill="#ff0000" font-weight="bold" font-style="normal" font-family="Liberation Sans">+3.8</text>
<text transform="translate(300.20,345.70) scale(1.2775,1)" font-size="16" fill="#ff0000" font-weight="bold" font-style="normal" font-family="Liberation Sans">−3.2</text>
<text stroke="#ff0000" stroke-width="0.25" transform="translate(358.40,339.00) scale(1.3000,1)" font-size="26" fill="#ff0000" font-weight="normal" font-style="normal" font-family="Liberation Serif">nb</text>
<path d="M417.12,316.64 Q404.68,331.26 417.12,345.88" stroke="#ff0000" stroke-width="1.6" fill="none"/>
<text stroke="#ff0000" stroke-width="0.25" transform="translate(420.80,339.00) scale(1.0785,1)" font-size="26" fill="#ff0000" font-weight="normal" font-style="normal" font-family="Liberation Serif">CDF</text>
<path d="M478.08,316.64 Q490.52,331.26 478.08,345.88" stroke="#ff0000" stroke-width="1.6" fill="none"/>
<text stroke="#000" stroke-width="0.25" transform="translate(239.70,379.80) scale(1.2198,1)" font-size="26" fill="#000" font-weight="normal" font-style="normal" font-family="Liberation Serif">18.3</text>
<text transform="translate(299.00,367.30) scale(1.3154,1)" font-size="16" fill="#000" font-weight="bold" font-style="normal" font-family="Liberation Sans">+8.3</text>
<text transform="translate(300.20,386.60) scale(1.2775,1)" font-size="16" fill="#000" font-weight="bold" font-style="normal" font-family="Liberation Sans">−5.9</text>
<text stroke="#000" stroke-width="0.25" transform="translate(358.40,379.80) scale(1.3000,1)" font-size="26" fill="#000" font-weight="normal" font-style="normal" font-family="Liberation Serif">nb</text>
<path d="M417.12,357.44 Q404.68,372.06 417.12,386.68" stroke="#000" stroke-width="1.6" fill="none"/>
<text stroke="#000" stroke-width="0.25" transform="translate(420.80,379.80) scale(1.0496,1)" font-size="26" fill="#000" font-weight="normal" font-style="normal" font-family="Liberation Serif">FONLL</text>
<path d="M511.38,357.44 Q523.82,372.06 511.38,386.68" stroke="#000" stroke-width="1.6" fill="none"/>
<text stroke="#000" stroke-width="0.3" transform="translate(131.40,440.90) scale(1.1498,1)" font-size="24.5" fill="#000" font-weight="normal" font-style="normal" font-family="Liberation Serif">Solid</text>
<text stroke="#000" stroke-width="0.3" transform="translate(206.00,440.90) scale(1.2888,1)" font-size="24.5" fill="#000" font-weight="normal" font-style="normal" font-family="Liberation Serif">histogram:</text>
<text stroke="#000" stroke-width="0.3" transform="translate(355.20,440.90) scale(0.9101,1)" font-size="24.5" fill="#000" font-weight="normal" font-style="normal" font-family="Liberation Serif">MC@NLO,</text>
<text stroke="#000" stroke-width="0.3" transform="translate(478.00,440.90) scale(1.1335,1)" font-size="24.5" fill="#000" font-weight="normal" font-style="normal" font-family="Liberation Serif">17.2</text>
<text stroke="#000" stroke-width="0.3" transform="translate(540.50,440.90) scale(1.2245,1)" font-size="24.5" fill="#000" font-weight="normal" font-style="normal" font-family="Liberation Serif">nb,</text>
<text stroke="#0000ff" stroke-width="0.3" transform="translate(131.40,470.50) scale(1.1810,1)" font-size="24.5" fill="#0000ff" font-weight="normal" font-style="normal" font-family="Liberation Serif">Dashed</text>
<text stroke="#0000ff" stroke-width="0.3" transform="translate(235.00,470.50) scale(1.2792,1)" font-size="24.5" fill="#0000ff" font-weight="normal" font-style="normal" font-family="Liberation Serif">histogram:</text>
<text stroke="#0000ff" stroke-width="0.3" transform="translate(383.00,470.50) scale(0.9101,1)" font-size="24.5" fill="#0000ff" font-weight="normal" font-style="normal" font-family="Liberation Serif">MC@NLO,</text>
<text stroke="#0000ff" stroke-width="0.3" transform="translate(506.10,470.50) scale(1.1079,1)" font-size="24.5" fill="#0000ff" font-weight="normal" font-style="normal" font-family="Liberation Serif">16.4</text>
<text stroke="#0000ff" stroke-width="0.3" transform="translate(567.50,470.50) scale(1.2367,1)" font-size="24.5" fill="#0000ff" font-weight="normal" font-style="normal" font-family="Liberation Serif">nb</text>
<text stroke="#000" stroke-width="1.0" transform="translate(319.46,546.80) scale(0.9182,1)" font-size="20" fill="#000" font-weight="normal" font-style="normal" font-family="Liberation Serif">p</text>
<text stroke="#000" stroke-width="0.7" transform="translate(329.98,550.70) scale(0.7926,1)" font-size="12" fill="#000" font-weight="normal" font-style="normal" font-family="Liberation Serif">T</text>
<path d="M343.93,529.38 Q334.97,540.77 343.93,552.16" stroke="#000" stroke-width="1.9" fill="none"/>
<text stroke="#000" stroke-width="1.0" transform="translate(346.09,546.80) scale(0.7886,1)" font-size="20" fill="#000" font-weight="normal" font-style="normal" font-family="Liberation Serif">J</text>
<path d="M354.56,552.16 L364.44,529.38" stroke="#000" stroke-width="1.9" fill="none" stroke-linecap="butt"/>
<text stroke="#000" stroke-width="1.0" transform="translate(366.97,546.80) scale(0.7443,1)" font-size="21" fill="#000" font-weight="normal" font-style="italic" font-family="Liberation Serif">ψ</text>
<path d="M379.87,529.38 Q387.63,540.77 379.87,552.16" stroke="#000" stroke-width="1.9" fill="none"/>
<path d="M405.83,529.38 Q397.67,540.77 405.83,552.16" stroke="#000" stroke-width="1.9" fill="none"/>
<text stroke="#000" stroke-width="1.0" transform="translate(407.75,546.80) scale(0.7097,1)" font-size="20" fill="#000" font-weight="normal" font-style="normal" font-family="Liberation Serif">G</text>
<text stroke="#000" stroke-width="1.0" transform="translate(419.84,546.80) scale(0.8810,1)" font-size="20" fill="#000" font-weight="normal" font-style="normal" font-family="Liberation Serif">e</text>
<text stroke="#000" stroke-width="1.0" transform="translate(428.85,546.80) scale(0.7097,1)" font-size="20" fill="#000" font-weight="normal" font-style="normal" font-family="Liberation Serif">V</text>
<path d="M443.07,529.38 Q452.23,540.77 443.07,552.16" stroke="#000" stroke-width="1.9" fill="none"/>
<text stroke="#000" stroke-width="1.0" transform="translate(103.44,521.40) scale(0.8780,1)" font-size="18.5" fill="#000" font-weight="normal" font-style="normal" font-family="Liberation Serif">0</text>
<text stroke="#000" stroke-width="1.0" transform="translate(260.44,521.40) scale(0.8780,1)" font-size="18.5" fill="#000" font-weight="normal" font-style="normal" font-family="Liberation Serif">5</text>
<text stroke="#000" stroke-width="1.0" transform="translate(411.52,521.40) scale(1.0359,1)" font-size="18.5" fill="#000" font-weight="normal" font-style="normal" font-family="Liberation Serif">10</text>
<text stroke="#000" stroke-width="1.0" transform="translate(568.03,521.40) scale(1.0513,1)" font-size="18.5" fill="#000" font-weight="normal" font-style="normal" font-family="Liberation Serif">15</text>
<text stroke="#000" stroke-width="1.0" transform="translate(723.27,521.40) scale(1.1436,1)" font-size="18.5" fill="#000" font-weight="normal" font-style="normal" font-family="Liberation Serif">20</text>
<text stroke="#000" stroke-width="1.0" transform="translate(54.21,22.50) scale(0.6273,1)" font-size="20" fill="#000" font-weight="normal" font-style="normal" font-family="Liberation Serif">1</text>
<text stroke="#000" stroke-width="1.0" transform="translate(64.04,22.50) scale(0.8818,1)" font-size="20" fill="#000" font-weight="normal" font-style="normal" font-family="Liberation Serif">0</text>
<text stroke="#000" stroke-width="1.0" transform="translate(77.01,15.50) scale(0.6273,1)" font-size="20" fill="#000" font-weight="normal" font-style="normal" font-family="Liberation Serif">1</text>
<text stroke="#000" stroke-width="1.0" transform="translate(54.21,143.25) scale(0.6273,1)" font-size="20" fill="#000" font-weight="normal" font-style="normal" font-family="Liberation Serif">1</text>
<text stroke="#000" stroke-width="1.0" transform="translate(64.04,143.25) scale(0.8818,1)" font-size="20" fill="#000" font-weight="normal" font-style="normal" font-family="Liberation Serif">0</text>
<text stroke="#000" stroke-width="1.0" transform="translate(76.23,136.25) scale(0.8545,1)" font-size="20" fill="#000" font-weight="normal" font-style="normal" font-family="Liberation Serif">0</text>
<text stroke="#000" stroke-width="1.0" transform="translate(41.82,264.00) scale(0.6455,1)" font-size="20" fill="#000" font-weight="normal" font-style="normal" font-family="Liberation Serif">1</text>
<text stroke="#000" stroke-width="1.0" transform="translate(51.53,264.00) scale(0.8636,1)" font-size="20" fill="#000" font-weight="normal" font-style="normal" font-family="Liberation Serif">0</text>
<text stroke="#000" stroke-width="1.0" transform="translate(64.05,257.00) scale(0.9061,1)" font-size="20" fill="#000" font-weight="normal" font-style="normal" font-family="Liberation Serif">−</text>
<text stroke="#000" stroke-width="1.0" transform="translate(78.82,257.00) scale(0.6364,1)" font-size="20" fill="#000" font-weight="normal" font-style="normal" font-family="Liberation Serif">1</text>
<text stroke="#000" stroke-width="1.0" transform="translate(41.82,384.75) scale(0.6455,1)" font-size="20" fill="#000" font-weight="normal" font-style="normal" font-family="Liberation Serif">1</text>
<text stroke="#000" stroke-width="1.0" transform="translate(51.53,384.75) scale(0.8636,1)" font-size="20" fill="#000" font-weight="normal" font-style="normal" font-family="Liberation Serif">0</text>
<text stroke="#000" stroke-width="1.0" transform="translate(64.05,377.75) scale(0.9061,1)" font-size="20" fill="#000" font-weight="normal" font-style="normal" font-family="Liberation Serif">−</text>
<text stroke="#000" stroke-width="1.0" transform="translate(78.44,377.75) scale(0.8818,1)" font-size="20" fill="#000" font-weight="normal" font-style="normal" font-family="Liberation Serif">2</text>
<text stroke="#000" stroke-width="1.0" transform="translate(41.82,505.50) scale(0.6455,1)" font-size="20" fill="#000" font-weight="normal" font-style="normal" font-family="Liberation Serif">1</text>
<text stroke="#000" stroke-width="1.0" transform="translate(51.53,505.50) scale(0.8636,1)" font-size="20" fill="#000" font-weight="normal" font-style="normal" font-family="Liberation Serif">0</text>
<text stroke="#000" stroke-width="1.0" transform="translate(64.05,498.50) scale(0.9061,1)" font-size="20" fill="#000" font-weight="normal" font-style="normal" font-family="Liberation Serif">−</text>
<text stroke="#000" stroke-width="1.0" transform="translate(78.44,498.50) scale(0.8818,1)" font-size="20" fill="#000" font-weight="normal" font-style="normal" font-family="Liberation Serif">3</text>
<g transform="translate(20.3,385.1) rotate(-90)">
<text stroke="#000" stroke-width="1.0" transform="translate(0.97,0.00) scale(0.9455,1)" font-size="20" fill="#000" font-weight="normal" font-style="normal" font-family="Liberation Serif">d</text>
<text stroke="#000" stroke-width="1.0" transform="translate(12.11,0.00) scale(0.8247,1)" font-size="21" fill="#000" font-weight="normal" font-style="italic" font-family="Liberation Serif">σ</text>
<path d="M23.96,5.36 L33.94,-17.42" stroke="#000" stroke-width="1.9" fill="none" stroke-linecap="butt"/>
<text stroke="#000" stroke-width="1.0" transform="translate(36.66,0.00) scale(0.9182,1)" font-size="20" fill="#000" font-weight="normal" font-style="normal" font-family="Liberation Serif">d</text>
<text stroke="#000" stroke-width="1.0" transform="translate(48.04,0.00) scale(0.8727,1)" font-size="20" fill="#000" font-weight="normal" font-style="normal" font-family="Liberation Serif">p</text>
<text stroke="#000" stroke-width="0.7" transform="translate(58.08,3.90) scale(0.8050,1)" font-size="12" fill="#000" font-weight="normal" font-style="normal" font-family="Liberation Serif">T</text>
<path d="M71.73,-17.42 Q63.17,-6.03 71.73,5.36" stroke="#000" stroke-width="1.9" fill="none"/>
<text stroke="#000" stroke-width="1.0" transform="translate(73.99,0.00) scale(0.7886,1)" font-size="20" fill="#000" font-weight="normal" font-style="normal" font-family="Liberation Serif">J</text>
<path d="M82.36,5.36 L92.74,-17.42" stroke="#000" stroke-width="1.9" fill="none" stroke-linecap="butt"/>
<text stroke="#000" stroke-width="1.0" transform="translate(94.98,0.00) scale(0.7513,1)" font-size="21" fill="#000" font-weight="normal" font-style="italic" font-family="Liberation Serif">ψ</text>
<path d="M108.07,-17.42 Q115.83,-6.03 108.07,5.36" stroke="#000" stroke-width="1.9" fill="none"/>
<text stroke="#000" stroke-width="1.0" transform="translate(127.41,0.00) scale(0.8278,1)" font-size="20" fill="#000" font-weight="normal" font-style="normal" font-family="Liberation Serif">B</text>
<text stroke="#000" stroke-width="1.0" transform="translate(140.41,0.00) scale(0.8278,1)" font-size="20" fill="#000" font-weight="normal" font-style="normal" font-family="Liberation Serif">R</text>
<path d="M159.93,-17.42 Q149.97,-6.03 159.93,5.36" stroke="#000" stroke-width="1.9" fill="none"/>
<text stroke="#000" stroke-width="1.0" transform="translate(161.99,0.00) scale(0.7886,1)" font-size="20" fill="#000" font-weight="normal" font-style="normal" font-family="Liberation Serif">J</text>
<path d="M170.96,5.36 L181.34,-17.42" stroke="#000" stroke-width="1.9" fill="none" stroke-linecap="butt"/>
<text stroke="#000" stroke-width="1.0" transform="translate(183.59,0.00) scale(0.7861,1)" font-size="21" fill="#000" font-weight="normal" font-style="italic" font-family="Liberation Serif">ψ</text>
<path d="M196.20,-5.60 H208.10 M204.10,-8.40 L208.10,-5.60 L204.10,-2.80" stroke="#000" stroke-width="1.6" fill="none" stroke-linejoin="miter"/>
<text stroke="#000" stroke-width="1.0" transform="translate(209.75,0.00) scale(0.8860,1)" font-size="21" fill="#000" font-weight="normal" font-style="italic" font-family="Liberation Serif">μ</text>
<text stroke="#000" stroke-width="1.0" transform="translate(220.96,0.00) scale(0.8946,1)" font-size="21" fill="#000" font-weight="normal" font-style="italic" font-family="Liberation Serif">μ</text>
<path d="M233.67,-17.42 Q240.63,-6.03 233.67,5.36" stroke="#000" stroke-width="1.9" fill="none"/>
<path d="M261.93,-17.42 Q249.97,-6.03 261.93,5.36" stroke="#000" stroke-width="1.9" fill="none"/>
<text stroke="#000" stroke-width="1.0" transform="translate(264.04,0.00) scale(0.8818,1)" font-size="20" fill="#000" font-weight="normal" font-style="normal" font-family="Liberation Serif">n</text>
<text stroke="#000" stroke-width="1.0" transform="translate(274.85,0.00) scale(0.8909,1)" font-size="20" fill="#000" font-weight="normal" font-style="normal" font-family="Liberation Serif">b</text>
<path d="M285.96,5.36 L297.44,-17.42" stroke="#000" stroke-width="1.9" fill="none" stroke-linecap="butt"/>
<text stroke="#000" stroke-width="1.0" transform="translate(299.65,0.00) scale(0.6968,1)" font-size="20" fill="#000" font-weight="normal" font-style="normal" font-family="Liberation Serif">G</text>
<text stroke="#000" stroke-width="1.0" transform="translate(311.64,0.00) scale(0.8709,1)" font-size="20" fill="#000" font-weight="normal" font-style="normal" font-family="Liberation Serif">e</text>
<text stroke="#000" stroke-width="1.0" transform="translate(320.65,0.00) scale(0.6968,1)" font-size="20" fill="#000" font-weight="normal" font-style="normal" font-family="Liberation Serif">V</text>
<path d="M334.47,-17.42 Q344.43,-6.03 334.47,5.36" stroke="#000" stroke-width="1.9" fill="none"/>
</g>
</svg>
</body></html>
